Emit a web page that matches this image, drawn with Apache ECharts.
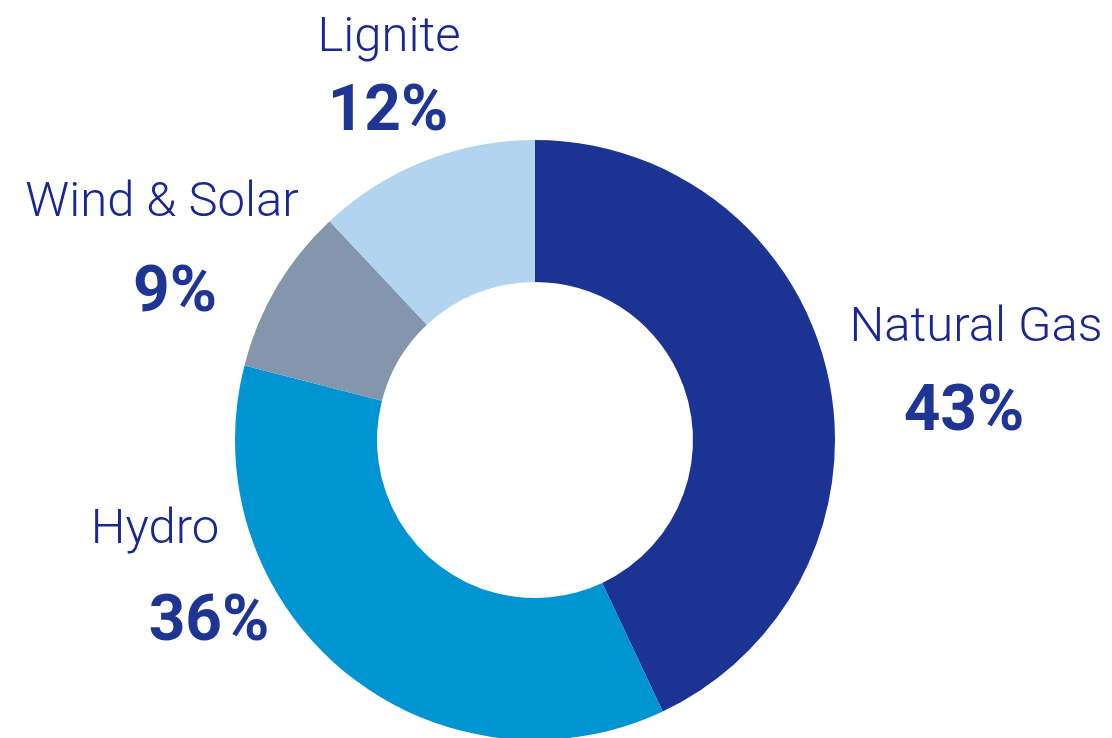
<!DOCTYPE html>
<html>
<head>
<meta charset="utf-8">
<title>Electricity generation mix</title>
<script src="https://cdn.jsdelivr.net/npm/echarts@6/dist/echarts.min.js"></script>
<style>
  html, body { margin: 0; padding: 0; background: #ffffff; }
  #chart { width: 1112px; height: 738px; }
</style>
</head>
<body>
<div id="chart"></div>
<script>
// Generation sources and their shares (%), clockwise from 12 o'clock
const categories = ['Natural Gas', 'Hydro', 'Wind & Solar', 'Lignite'];
const shares = [43, 36, 9, 12];
const sliceColors = ['#1b3494', '#0094d2', '#8496ab', '#b2d4ef'];

// Where each source's caption sits: name centre and percentage centre
const captionSpots = {
  'Natural Gas':  { name: [976, 329], value: [964, 414] },
  'Hydro':        { name: [155, 531], value: [209, 624] },
  'Wind & Solar': { name: [162, 204], value: [175, 295] },
  'Lignite':      { name: [389, 39],  value: [388, 114] }
};

const nameColor = '#1a2790';
const valueColor = '#1e3594';

const captions = [];
categories.forEach(function (cat, i) {
  const spot = captionSpots[cat];
  captions.push({
    type: 'text',
    x: spot.name[0],
    y: spot.name[1],
    style: {
      text: cat,
      fill: nameColor,
      font: '300 49px Roboto, "Noto Sans", sans-serif',
      textAlign: 'center',
      textVerticalAlign: 'middle'
    }
  });
  captions.push({
    type: 'text',
    x: spot.value[0],
    y: spot.value[1],
    style: {
      text: shares[i] + '%',
      fill: valueColor,
      font: 'bold 64px Roboto, "Noto Sans", sans-serif',
      textAlign: 'center',
      textVerticalAlign: 'middle'
    }
  });
});

const chart = echarts.init(document.getElementById('chart'), null, { renderer: 'canvas' });
chart.setOption({
  backgroundColor: '#ffffff',
  animation: false,
  series: [{
    type: 'pie',
    center: [535, 440],
    radius: [158, 300],
    startAngle: 90,
    clockwise: true,
    avoidLabelOverlap: false,
    label: { show: false },
    labelLine: { show: false },
    emphasis: { disabled: true },
    itemStyle: { borderWidth: 0 },
    data: categories.map(function (cat, i) {
      return { name: cat, value: shares[i], itemStyle: { color: sliceColors[i] } };
    })
  }],
  graphic: captions
});
</script>
</body>
</html>
